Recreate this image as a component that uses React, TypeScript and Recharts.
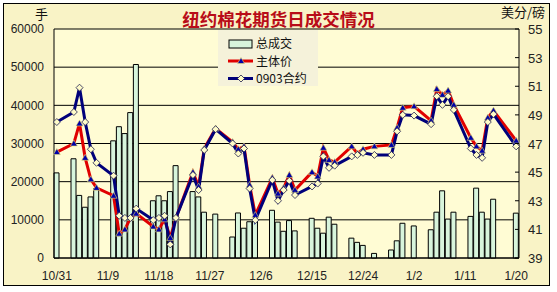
import React from 'react';
import { ComposedChart, Bar, Line, XAxis, YAxis, CartesianGrid, Legend } from 'recharts';

// daily categories 2008-10-31 .. 2009-01-20 (non-trading days are null)
const dates = [
  '10/31',
  '11/1', '11/2', '11/3', '11/4', '11/5', '11/6', '11/7',
  '11/8', '11/9', '11/10', '11/11', '11/12', '11/13', '11/14',
  '11/15', '11/16', '11/17', '11/18', '11/19', '11/20', '11/21',
  '11/22', '11/23', '11/24', '11/25', '11/26', '11/27', '11/28',
  '11/29', '11/30', '12/1', '12/2', '12/3', '12/4', '12/5',
  '12/6', '12/7', '12/8', '12/9', '12/10', '12/11', '12/12',
  '12/13', '12/14', '12/15', '12/16', '12/17', '12/18', '12/19',
  '12/20', '12/21', '12/22', '12/23', '12/24', '12/25', '12/26',
  '12/27', '12/28', '12/29', '12/30', '12/31', '1/1', '1/2',
  '1/3', '1/4', '1/5', '1/6', '1/7', '1/8', '1/9',
  '1/10', '1/11', '1/12', '1/13', '1/14', '1/15', '1/16',
  '1/17', '1/18', '1/19', '1/20',
];

// 总成交 (手)
const volume = [
  22300,
  null, null, 26000, 16400, 13300, 16000, 18200,
  null, null, 30700, 34400, 32600, 38100, 50700,
  null, null, 15000, 16300, 15000, 17400, 24200,
  null, null, 17400, 16000, 12000, null, 11500,
  null, null, 5500, 11800, 7800, 9500, 9700,
  null, null, 12500, 9400, 7000, 9800, 7100,
  null, null, 10400, 7800, 6500, 10700, 8850,
  null, null, 5200, 4100, 3300, null, 1200,
  null, null, 2100, 4500, 9100, null, 8400,
  null, null, 7400, 12000, 17600, 10200, 12000,
  null, null, 10900, 18300, 12000, 10200, 15400,
  null, null, null, 11750,
];

// 主体价 (美分/磅)
const mainPrice = [
  46.4,
  null, null, 47.0, 48.4, 46.0, 44.5, 43.9,
  null, null, 43.35, 40.7, 41.0, 41.8, 42.1,
  null, null, 41.2, 41.0, 41.7, 40.4, 41.8,
  null, null, 45.0, 44.0, 46.65, null, 48.05,
  null, null, 47.1, 46.6, 46.8, 44.1, 42.0,
  null, null, 44.6, 43.5, 43.9, 44.8, 43.75,
  null, null, 45.0, 44.7, 46.7, 45.85, 45.7,
  null, null, 46.8, 46.3, 46.6, null, 46.8,
  null, null, 46.9, 48.1, 49.5, null, 49.6,
  null, null, 48.6, 50.8, 50.4, 50.7, 49.7,
  null, null, 47.4, 46.8, 46.5, 48.8, 49.3,
  null, null, null, 47.2,
];

// 0903合约 (美分/磅)
const contract0903 = [
  48.5,
  null, null, 49.2, 50.9, 48.5, 46.6, 45.65,
  null, null, 44.75, 41.95, 41.8, 41.8, 42.45,
  null, null, 41.65, 41.8, 41.95, 39.95, 41.8,
  null, null, 44.8, 43.75, 46.55, null, 48.0,
  null, null, 47.0, 46.3, 46.65, 43.85, 41.65,
  null, null, 44.45, 43.0, 43.75, 44.4, 43.4,
  null, null, 44.0, 44.2, 46.1, 45.3, 45.45,
  null, null, 46.1, 46.2, 46.35, null, 46.2,
  null, null, 46.2, 47.85, 49.0, null, 48.95,
  null, null, 48.35, 50.3, 49.7, 50.3, 49.35,
  null, null, 46.65, 46.2, 46.0, 48.5, 49.05,
  null, null, null, 46.8,
];

const dateTicks = ['10/31', '11/9', '11/18', '11/27', '12/6', '12/15', '12/24', '1/2', '1/11', '1/20'];
const volumeTicks = [0, 10000, 20000, 30000, 40000, 50000, 60000];
const priceTicks = [39, 41, 43, 45, 47, 49, 51, 53, 55];

const data = dates.map((date, i) => ({
  date,
  volume: volume[i],
  main: mainPrice[i],
  c0903: contract0903[i],
}));

const FONT = '"Liberation Sans", Arial, "Noto Sans CJK SC", sans-serif';
const CJK = '"Noto Sans CJK SC", "Liberation Sans", sans-serif';

const Triangle = (props: any) => {
  const { cx, cy, index } = props;
  if (cx == null || cy == null || props.value == null) return <g key={'t' + index} />;
  return (
    <path
      key={'t' + index}
      d={`M${cx},${cy - 3.5} L${cx + 3.5},${cy + 2.5} L${cx - 3.5},${cy + 2.5} Z`}
      fill="#0000a8"
      stroke="#e8e070"
      strokeWidth={0.6}
    />
  );
};

const Diamond = (props: any) => {
  const { cx, cy, index } = props;
  if (cx == null || cy == null || props.value == null) return <g key={'d' + index} />;
  return (
    <path
      key={'d' + index}
      d={`M${cx},${cy - 3.5} L${cx + 3.5},${cy} L${cx},${cy + 3.5} L${cx - 3.5},${cy} Z`}
      fill="#fffcc8"
      stroke="#202050"
      strokeWidth={0.8}
    />
  );
};

const PriceTick = (props: any) => {
  const { x, y, payload } = props;
  return (
    <g>
      <line x1={x - 13} x2={x - 9} y1={y} y2={y} stroke="#000" />
      <text x={x} y={y} dy={5} textAnchor="start" fontSize={13} fontFamily={FONT} fill="#222">
        {payload.value}
      </text>
    </g>
  );
};

// legend drawn inside its own box over the plot, like the original
const LegendBox = () => (
  <svg width={100} height={56} style={{ display: 'block' }}>
    <rect x={11} y={10} width={23} height={8} fill="#d8f5dc" stroke="#000" />
    <text x={38} y={18} fontSize={12} fontFamily={CJK} fill="#111">总成交</text>
    <line x1={10} x2={35} y1={31} y2={31} stroke="#e00000" strokeWidth={3} />
    <Triangle cx={23} cy={31} value={1} index={0} />
    <text x={38} y={35.5} fontSize={12} fontFamily={CJK} fill="#111">主体价</text>
    <line x1={10} x2={35} y1={48.5} y2={48.5} stroke="#00007a" strokeWidth={3} />
    <Diamond cx={23} cy={48.5} value={1} index={0} />
    <text x={38} y={53} fontSize={12} fontFamily={CJK} fill="#111">0903合约</text>
  </svg>
);

export default function App() {
  return (
    <div style={{ position: 'absolute', left: 0, top: 0, width: 557, height: 292, background: '#fff' }}>
      <div
        style={{
          position: 'absolute', left: 3, top: 3, width: 545, height: 281,
          border: '1px solid #000', background: '#f9f3c6',
        }}
      />
      <div
        style={{
          position: 'absolute', left: 0, top: 8, width: 557, textAlign: 'center',
          fontFamily: CJK, fontWeight: 700, fontSize: 17.5, color: '#b80c18', lineHeight: '22px',
        }}
      >
        纽约棉花期货日成交情况
      </div>
      <div style={{ position: 'absolute', left: 35, top: 7, fontFamily: CJK, fontSize: 13, lineHeight: '14px', color: '#111' }}>手</div>
      <div style={{ position: 'absolute', left: 501, top: 5, fontFamily: CJK, fontSize: 13, lineHeight: '14px', color: '#111' }}>美分/磅</div>
      <div style={{ position: 'absolute', left: 0, top: 0 }}>
        <ComposedChart width={557} height={292} data={data} margin={{ top: 29, right: 0, bottom: 0, left: 0 }} barCategoryGap={0}>
          <CartesianGrid yAxisId="left" vertical={false} stroke="#000" strokeOpacity={1} fill="#fffcd4" fillOpacity={1} />
          <XAxis
            dataKey="date"
            ticks={dateTicks}
            interval={0}
            height={34}
            tickLine={false}
            tickSize={0}
            tickMargin={13}
            axisLine={{ stroke: '#000' }}
            tick={{ fontSize: 12, fontFamily: FONT, fill: '#222' }}
          />
          <YAxis
            yAxisId="left"
            domain={[0, 60000]}
            ticks={volumeTicks}
            width={54}
            tickLine={false}
            tickSize={0}
            tickMargin={10}
            axisLine={{ stroke: '#000' }}
            tick={{ fontSize: 12, fontFamily: FONT, fill: '#222' }}
          />
          <YAxis
            yAxisId="right"
            orientation="right"
            domain={[39, 55]}
            ticks={priceTicks}
            width={38}
            tickLine={false}
            tickSize={0}
            tickMargin={9}
            axisLine={{ stroke: '#000' }}
            tick={<PriceTick />}
          />
          <Legend
            layout="vertical"
            align="center"
            verticalAlign="middle"
            content={<LegendBox />}
            wrapperStyle={{ left: 218, top: 30, width: 100, height: 56, background: '#f5f2da' }}
          />
          <Bar
            yAxisId="left"
            dataKey="volume"
            name="总成交"
            barSize={5}
            fill="#d8f5dc"
            stroke="#000"
            strokeWidth={1}
            isAnimationActive={false}
          />
          <Line
            yAxisId="right"
            dataKey="main"
            name="主体价"
            stroke="#e00000"
            strokeWidth={3}
            connectNulls
            dot={Triangle}
            activeDot={false}
            isAnimationActive={false}
          />
          <Line
            yAxisId="right"
            dataKey="c0903"
            name="0903合约"
            stroke="#00007a"
            strokeWidth={3}
            connectNulls
            dot={Diamond}
            activeDot={false}
            isAnimationActive={false}
          />
        </ComposedChart>
      </div>
    </div>
  );
}
